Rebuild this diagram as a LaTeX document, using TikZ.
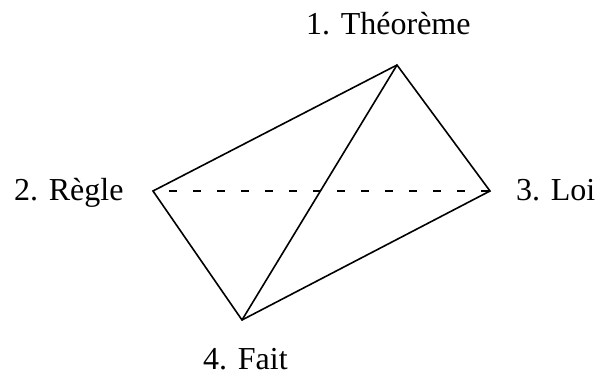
\documentclass[tikz,border=0pt]{standalone}
\usepackage{fontspec}
\setmainfont{Liberation Serif}
\usepackage{tikz}
\usetikzlibrary{positioning}

\begin{document}
\begin{tikzpicture}[
x=1pt, y=-1pt,
lbl/.style={inner sep=0pt, anchor=base west, font=\fontsize{32}{36}\selectfont},
edge/.style={line width=1.6pt, line join=miter},
hidden/.style={line width=1.3pt, dash pattern=on 8pt off 16pt, dash phase=8pt}
]
\useasboundingbox (0,0) rectangle (598,376);

\coordinate (theo) at (397,65);
\coordinate (regle) at (153,191);
\coordinate (loi) at (490,191);
\coordinate (fait) at (242,320);

\node[lbl] (theolbl) at (306,34) {1. Théorème};
\node[lbl] (reglelbl) at (14,200) {2. Règle};
\node[lbl] (loilbl) at (516,200) {3. Loi};
\node[lbl] (faitlbl) at (203,369) {4. Fait};

\draw[edge] (theo) -- (regle) -- (fait) -- (loi) -- cycle;
\draw[edge] (theo) -- (fait);
\draw[hidden] (regle) -- (loi);
\end{tikzpicture}
\end{document}
